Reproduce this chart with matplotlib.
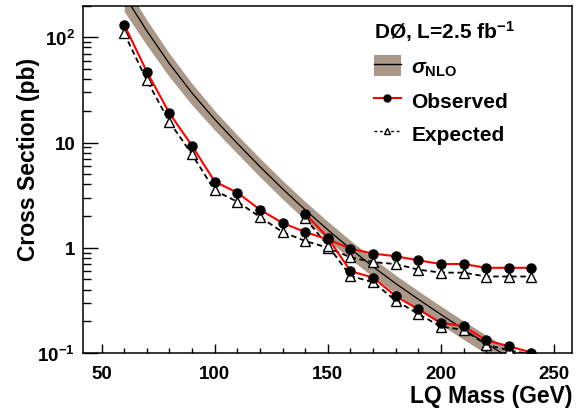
import matplotlib
matplotlib.use('Agg')
import matplotlib.pyplot as plt
import numpy as np
from matplotlib.patches import Patch
from matplotlib.lines import Line2D
from matplotlib.ticker import FixedLocator, MultipleLocator, LogLocator, NullFormatter, FuncFormatter

plt.rcParams['font.family'] = ['Liberation Sans', 'DejaVu Sans']
plt.rcParams['font.weight'] = 'bold'
plt.rcParams['mathtext.fontset'] = 'custom'
plt.rcParams['mathtext.rm'] = 'Liberation Sans:bold'
plt.rcParams['mathtext.bf'] = 'Liberation Sans:bold'
plt.rcParams['mathtext.it'] = 'Liberation Sans:italic'

# NLO theory curve and its relative uncertainty
mass_th = [60, 70, 80, 90, 100, 110, 120, 130, 140, 150, 160, 170, 180, 190, 200, 210, 220, 230, 240]
sigma_nlo = [251, 115, 56, 29.5, 16.6, 9.8, 5.9, 3.63, 2.29, 1.48, 0.977, 0.66, 0.457, 0.324, 0.232, 0.168, 0.123, 0.091, 0.068]
sigma_unc = [0.30, 0.27, 0.25, 0.23, 0.21, 0.20, 0.20, 0.20, 0.20, 0.20, 0.20, 0.20, 0.20, 0.20, 0.20, 0.20, 0.20, 0.20, 0.20]

# first limit curve (60-240 GeV)
mass_a = [60, 70, 80, 90, 100, 110, 120, 130, 140, 150, 160, 170, 180, 190, 200, 210, 220, 230, 240]
obs_a = [132, 47, 19, 9.3, 4.25, 3.34, 2.3, 1.72, 1.41, 1.2, 0.98, 0.88, 0.83, 0.76, 0.70, 0.70, 0.645, 0.645, 0.645]
exp_a = [109, 39, 15.7, 7.7, 3.5, 2.74, 1.96, 1.41, 1.16, 1.0, 0.81, 0.73, 0.70, 0.62, 0.58, 0.58, 0.533, 0.533, 0.533]

# second limit curve (140-240 GeV)
mass_b = [140, 150, 160, 170, 180, 190, 200, 210, 220, 230, 240]
obs_b = [2.11, 1.25, 0.60, 0.52, 0.347, 0.26, 0.193, 0.18, 0.132, 0.116, 0.101]
exp_b = [1.9, 1.05, 0.54, 0.47, 0.315, 0.235, 0.178, 0.166, 0.12, 0.106, 0.097]

band_col = '#aa9888'

fig = plt.figure(figsize=(5.88, 4.14), dpi=100)
ax = fig.add_axes([0.142, 0.145, 0.831, 0.839])

th = np.array(sigma_nlo)
unc = np.array(sigma_unc)
ax.fill_between(mass_th, th * (1 - unc), th * (1 + unc), color=band_col, linewidth=0, zorder=1)
ax.plot(mass_th, th, color='black', linewidth=0.9, zorder=2)

for m, e in [(mass_a, exp_a), (mass_b, exp_b)]:
    ax.plot(m, e, color='black', linestyle=(0, (3, 2)), linewidth=1.3,
            marker='^', markersize=6.5, markerfacecolor='white', markeredgecolor='black',
            markeredgewidth=1.0, zorder=3)
for m, o in [(mass_a, obs_a), (mass_b, obs_b)]:
    ax.plot(m, o, color='red', linewidth=1.5, marker='o', markersize=6.5,
            markerfacecolor='black', markeredgecolor='black', zorder=4)

ax.set_yscale('log')
ax.set_xlim(42, 258)
ax.set_ylim(0.1, 200)

ax.xaxis.set_major_locator(MultipleLocator(50))
ax.xaxis.set_minor_locator(MultipleLocator(10))
ax.yaxis.set_major_locator(FixedLocator([0.1, 1, 10, 100]))
ax.yaxis.set_minor_locator(LogLocator(base=10, subs=np.arange(2, 10)))
ax.yaxis.set_minor_formatter(NullFormatter())
ylabels = {0.1: r'$\mathbf{10^{-1}}$', 1: '1', 10: '10', 100: r'$\mathbf{10^{2}}$'}
ax.yaxis.set_major_formatter(FuncFormatter(lambda v, p: ylabels.get(round(v, 3), '')))

ax.tick_params(axis='x', which='major', direction='in', length=6.5, width=1, labelsize=13.5, pad=9, top=False)
ax.tick_params(axis='x', which='minor', direction='in', length=3.5, width=1, top=False)
ax.tick_params(axis='y', which='major', direction='in', length=11, width=1, labelsize=13.5, pad=6, right=False)
ax.tick_params(axis='y', which='minor', direction='in', length=6, width=1, right=False)
for s in ax.spines.values():
    s.set_linewidth(1.1)

ax.set_xlabel('LQ Mass (GeV)', fontsize=16.5, fontweight='bold', ha='right')
ax.xaxis.set_label_coords(1.0, -0.09)
ax.set_ylabel('Cross Section (pb)', fontsize=16.5, fontweight='bold')
ax.yaxis.set_label_coords(-0.09, 0.56)

h_nlo = (Patch(facecolor=band_col, edgecolor='none'), Line2D([], [], color='black', linewidth=1.0))
h_obs = Line2D([], [], color='red', linewidth=1.5, marker='o', markersize=5,
               markerfacecolor='black', markeredgecolor='black')
h_exp = Line2D([], [], color='black', linestyle=(0, (2, 2)), linewidth=1.0, marker='^', markersize=5,
               markerfacecolor='white', markeredgecolor='black')
leg = ax.legend([h_nlo, h_obs, h_exp], [r'$\sigma_{\mathbf{NLO}}$', 'Observed', 'Expected'],
                loc='upper left', bbox_to_anchor=(0.556, 1.017), frameon=False,
                fontsize=15, handlelength=1.3, handleheight=1.2, handletextpad=0.5,
                labelspacing=0.55, title=r'DØ, L=2.5 fb$^{\mathbf{-1}}$',
                title_fontproperties={'size': 15, 'weight': 'bold'}, alignment='left')

fig.savefig('out.png', dpi=100)
